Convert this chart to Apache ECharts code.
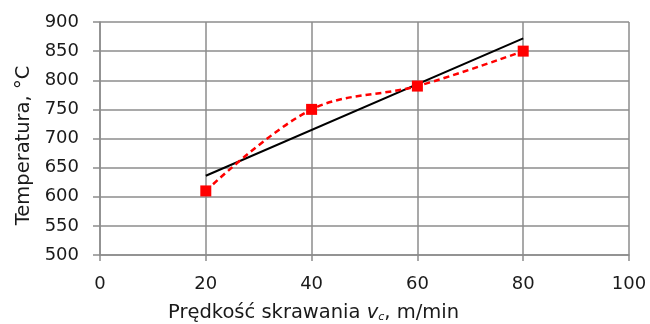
<!DOCTYPE html>
<html><head><meta charset="utf-8">
<script src="https://cdn.jsdelivr.net/npm/echarts@6/dist/echarts.min.js"></script>
<style>html,body{margin:0;padding:0;background:#fff}#c{width:650px;height:324px}</style>
</head><body><div id="c"></div>
<script>
const speeds = [20, 40, 60, 80];
const temps = [610, 750, 790, 850];
const trendX = [20, 80];
const trendY = [636, 872];
const xTicks = [0, 20, 40, 60, 80, 100];
const yTicks = [500, 550, 600, 650, 700, 750, 800, 850, 900];

const font = 'DejaVu Sans';
const chart = echarts.init(document.getElementById('c'), null, {renderer: 'canvas'});
chart.setOption({
  animation: false,
  grid: {left: 100, right: 21, top: 22, bottom: 69, containLabel: false, outerBoundsMode: 'none'},
  xAxis: {
    type: 'value', min: xTicks[0], max: xTicks[xTicks.length - 1], interval: 20,
    axisLine: {show: true, lineStyle: {color: '#8c8c8c', width: 1.5}},
    axisTick: {show: true, length: 6, lineStyle: {color: '#8c8c8c', width: 1.5}},
    splitLine: {show: true, lineStyle: {color: '#8c8c8c', width: 1.5}},
    axisLabel: {color: '#1a1a1a', fontFamily: font, fontSize: 18, margin: 20},
    name: '{a|Prędkość skrawania }{i|v}{s|c}{a|, m/min}',
    nameLocation: 'middle', nameGap: 48,
    nameTextStyle: {
      padding: [0, 102, 0, 0],
      rich: {
        a: {fontFamily: font, fontSize: 19.5, color: '#1a1a1a'},
        i: {fontFamily: font, fontSize: 19.5, fontStyle: 'italic', color: '#1a1a1a'},
        s: {fontFamily: font, fontSize: 11, fontStyle: 'italic', color: '#1a1a1a', padding: [9, 0, 0, 0]}
      }
    }
  },
  yAxis: {
    type: 'value', min: yTicks[0], max: yTicks[yTicks.length - 1], interval: 50,
    axisLine: {show: true, lineStyle: {color: '#8c8c8c', width: 1.5}},
    axisTick: {show: true, length: 7, lineStyle: {color: '#8c8c8c', width: 1.5}},
    splitLine: {show: true, lineStyle: {color: '#8c8c8c', width: 1.5}},
    axisLabel: {color: '#1a1a1a', fontFamily: font, fontSize: 18, margin: 21},
    name: 'Temperatura, °C', nameLocation: 'middle', nameGap: 66,
    nameTextStyle: {fontFamily: font, fontSize: 19.5, color: '#1a1a1a', padding: [0, 14, 0, 0]}
  },
  series: [
    {
      type: 'line', data: trendX.map((x, i) => [x, trendY[i]]),
      symbol: 'none', lineStyle: {color: '#000', width: 2}, z: 2
    },
    {
      type: 'line', data: speeds.map((x, i) => [x, temps[i]]),
      smooth: 0.35, symbol: 'rect', symbolSize: 11,
      itemStyle: {color: '#ff0000'},
      lineStyle: {color: '#ff0000', width: 2.5, type: [6, 4]}, z: 3
    }
  ]
});
</script></body></html>
